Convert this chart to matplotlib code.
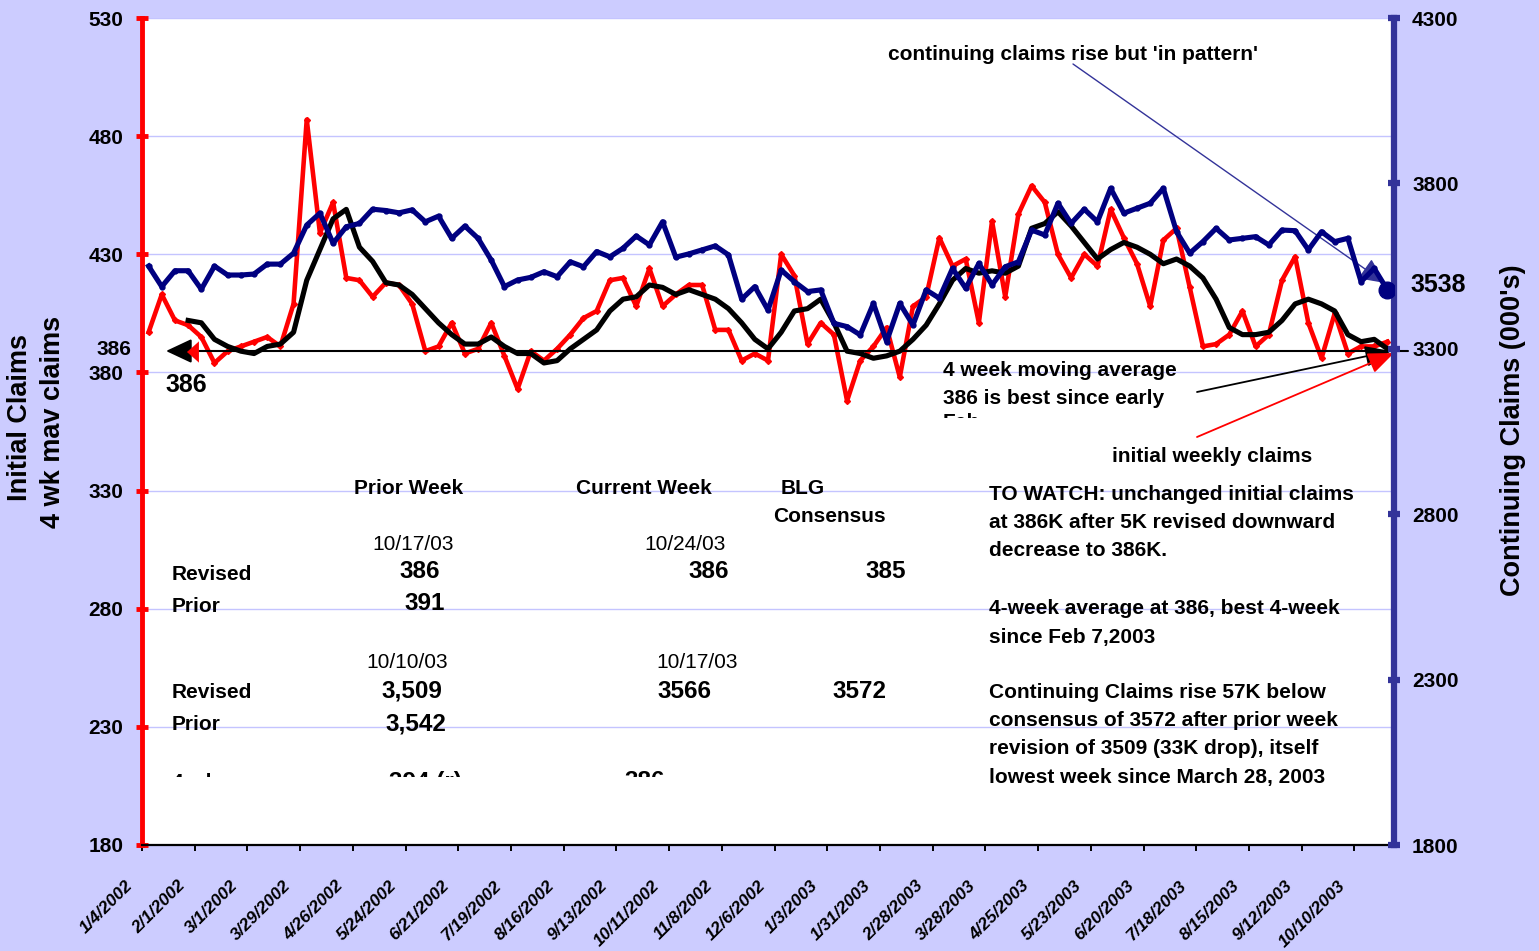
import numpy as np
import matplotlib
matplotlib.use("Agg")
import matplotlib.pyplot as plt
from matplotlib.transforms import Bbox, blended_transform_factory

plt.rcParams['font.family'] = ['Liberation Sans', 'DejaVu Sans']

# weekly initial claims (000s), 1/4/2002 .. 10/24/2003
initial_claims = [397, 413, 402, 400, 395, 384, 389, 391, 393, 395, 391, 409, 487, 439, 452, 420,
                  419, 412, 418, 417, 409, 389, 391, 401, 388, 390, 401, 387, 373, 389, 385, 390,
                  396, 403, 406, 419, 420, 408, 424, 408, 413, 417, 417, 398, 398, 385, 388, 385,
                  430, 421, 392, 401, 396, 368, 385, 391, 399, 378, 408, 412, 437, 425, 428, 401,
                  444, 412, 447, 459, 452, 430, 420, 430, 425, 449, 437, 426, 408, 436, 441, 416,
                  391, 392, 396, 406, 391, 396, 419, 429, 401, 386, 405, 388, 391, 391, 393]

# 4 week moving average, starts at the 4th week
moving_avg = [402, 401, 394, 391, 389, 388, 391, 392, 397, 419, 432, 445, 449, 433, 427, 418,
              417, 413, 407, 401, 396, 392, 392, 395, 391, 388, 388, 384, 385, 390, 394, 398,
              406, 411, 412, 417, 416, 413, 415, 413, 411, 407, 401, 394, 390, 397, 406, 407,
              411, 401, 389, 388, 386, 387, 389, 394, 400, 409, 419, 424, 422, 423, 422, 425,
              441, 443, 448, 442, 435, 428, 432, 435, 433, 430, 426, 428, 425, 420, 411, 399,
              396, 396, 397, 402, 409, 411, 409, 406, 396, 393, 394, 390]

# continuing claims (000s)
continuing = [3550, 3488, 3536, 3536, 3480, 3550, 3523, 3523, 3526, 3556, 3556, 3589, 3674, 3710,
              3619, 3669, 3679, 3722, 3718, 3711, 3720, 3684, 3701, 3634, 3671, 3634, 3568, 3488,
              3508, 3516, 3533, 3518, 3563, 3548, 3594, 3578, 3604, 3641, 3614, 3684, 3577, 3587,
              3599, 3611, 3584, 3450, 3488, 3417, 3538, 3503, 3473, 3478, 3377, 3367, 3342, 3437,
              3322, 3437, 3372, 3478, 3453, 3543, 3483, 3558, 3493, 3548, 3563, 3659, 3644, 3740,
              3679, 3722, 3684, 3785, 3710, 3725, 3740, 3785, 3654, 3589, 3624, 3664, 3629, 3634,
              3639, 3614, 3659, 3657, 3599, 3654, 3624, 3634, 3503, 3543, 3478]

date_labels = ['1/4/2002', '2/1/2002', '3/1/2002', '3/29/2002', '4/26/2002', '5/24/2002',
               '6/21/2002', '7/19/2002', '8/16/2002', '9/13/2002', '10/11/2002', '11/8/2002',
               '12/6/2002', '1/3/2003', '1/31/2003', '2/28/2003', '3/28/2003', '4/25/2003',
               '5/23/2003', '6/20/2003', '7/18/2003', '8/15/2003', '9/12/2003', '10/10/2003']

W, H = 1539, 951
BG = '#CCCCFF'
NAVY = '#000080'
AXBLUE = '#333399'


def px(x, y):
    # reference pixel (from top-left) -> figure fraction
    return x / W, 1 - y / H


fig = plt.figure(figsize=(W / 100, H / 100), dpi=100, facecolor=BG)
ax = fig.add_axes([142 / W, 1 - 845 / H, (1394 - 142) / W, (845 - 18) / H])
ax.set_facecolor('white')
ax2 = ax.twinx()

x = np.arange(len(initial_claims))
ax.plot(x, initial_claims, color='red', lw=3.3, marker='D', ms=3, zorder=3)
ax.plot(x[3:], moving_avg, color='black', lw=3.7, zorder=4)
ax2.plot(x, continuing, color=NAVY, lw=3.7, marker='o', ms=3.5, zorder=3)
ax2.plot(x[-1:], continuing[-1:], 'o', color=NAVY, ms=12, zorder=4)

ax.set_xlim(-0.5, len(initial_claims) - 0.5)
ax.set_ylim(180, 530)
ax.set_yticks(range(180, 531, 50))
ax2.set_ylim(1800, 4300)
ax2.set_yticks(range(1800, 4301, 500))
ax.set_xticks(np.arange(-0.5, len(initial_claims) - 1, 4))
ax.set_xticklabels([])

ax.yaxis.grid(True, color='#C4C4FF', lw=1)
ax.set_axisbelow(True)

for a in (ax, ax2):
    a.spines['top'].set_visible(False)
ax.spines['right'].set_visible(False)
ax2.spines['left'].set_visible(False)
ax2.spines['bottom'].set_visible(False)
ax.spines['left'].set_color('red')
ax.spines['left'].set_linewidth(3.5)
ax2.spines['right'].set_color(AXBLUE)
ax2.spines['right'].set_linewidth(4.5)
ax.spines['bottom'].set_color('black')
ax.spines['bottom'].set_linewidth(1.6)

ax.tick_params(axis='y', direction='inout', length=9, width=3.5, color='red', pad=9,
               labelsize=15)
ax2.tick_params(axis='y', direction='inout', length=8, width=4.5, color=AXBLUE, pad=9,
                labelsize=15)
ax.tick_params(axis='x', direction='out', length=4, width=1.4, color='black')
for lab in ax.get_yticklabels() + ax2.get_yticklabels():
    lab.set_fontweight('bold')

# rotated category labels, every 4 weeks
tr = blended_transform_factory(ax.transData, ax.transAxes)
for k, lab in enumerate(date_labels):
    ax.text(4 * k - 0.5 - 1.3, -0.040, lab, transform=tr, rotation=45, ha='right', va='top',
            rotation_mode='anchor', fontsize=12.5, fontweight='bold', fontstyle='italic',
            clip_on=False)

# axis titles
fig.text(*px(20, 418), 'Initial Claims', rotation=90, ha='center', va='center',
         fontsize=19.5, fontweight='bold')
fig.text(*px(53, 422), '4 wk mav claims', rotation=90, ha='center', va='center',
         fontsize=19.5, fontweight='bold')
fig.text(*px(1513, 430), "Continuing Claims (000's)", rotation=90, ha='center', va='center',
         fontsize=19.5, fontweight='bold')

# extra value labels
fig.text(*px(114, 350), '386', ha='center', va='center', fontsize=15, fontweight='bold')
fig.text(*px(186, 385), '386', ha='center', va='center', fontsize=18, fontweight='bold')
fig.text(*px(1438, 285), '3538', ha='center', va='center', fontsize=18, fontweight='bold')


def clipped(xp, yp, s, clip_y, **kw):
    t = fig.text(*px(xp, yp), s, **kw)
    t.set_clip_box(Bbox.from_extents(0, H - clip_y, W, H))
    t.set_clip_on(True)
    return t


# table
b15 = dict(fontsize=15, fontweight='bold', va='center')
n17 = dict(fontsize=17.5, fontweight='bold', va='center', ha='center')
r15 = dict(fontsize=15, va='center', ha='center')
fig.text(*px(409, 489), 'Prior Week', ha='center', **b15)
fig.text(*px(644, 489), 'Current Week', ha='center', **b15)
fig.text(*px(781, 489), 'BLG', ha='left', **b15)
fig.text(*px(773, 517), 'Consensus', ha='left', **b15)
fig.text(*px(413, 545), '10/17/03', **r15)
fig.text(*px(685, 545), '10/24/03', **r15)
fig.text(*px(172, 575), 'Revised', ha='left', **b15)
fig.text(*px(420, 572), '386', **n17)
fig.text(*px(709, 572), '386', **n17)
fig.text(*px(886, 572), '385', **n17)
fig.text(*px(172, 606), 'Prior', ha='left', **b15)
fig.text(*px(425, 604), '391', **n17)
fig.text(*px(407, 663), '10/10/03', **r15)
fig.text(*px(697, 663), '10/17/03', **r15)
fig.text(*px(172, 693), 'Revised', ha='left', **b15)
fig.text(*px(412, 691), '3,509', **n17)
fig.text(*px(684, 691), '3566', **n17)
fig.text(*px(859, 691), '3572', **n17)
fig.text(*px(172, 725), 'Prior', ha='left', **b15)
fig.text(*px(416, 724), '3,542', **n17)
clipped(172, 782, '4 wk avg', 777, ha='left', **b15)
clipped(425, 782, '394 (r)', 777, **n17)
clipped(645, 782, '386', 777, **n17)

# commentary on the right
notes = [(495, 'TO WATCH: unchanged initial claims'),
         (523, 'at 386K after 5K revised downward'),
         (551, 'decrease to 386K.'),
         (608, '4-week average at 386, best 4-week'),
         (637, 'since Feb 7,2003'),
         (693, 'Continuing Claims rise 57K below'),
         (721, 'consensus of 3572 after prior week'),
         (749, 'revision of 3509 (33K drop), itself'),
         (777, 'lowest week since March 28, 2003')]
for yp, s in notes:
    fig.text(*px(989, yp), s, ha='left', **b15)

fig.text(*px(1073, 55), "continuing claims rise but 'in pattern'", ha='center', **b15)
fig.text(*px(943, 371), '4 week moving average', ha='left', **b15)
fig.text(*px(943, 399), '386 is best since early', ha='left', **b15)
clipped(943, 423, 'Feb', 418, ha='left', **b15)
fig.text(*px(1212, 457), 'initial weekly claims', ha='center', **b15)


def arrow(x0, y0, x1, y1, color, lw, hl, hw):
    ax.annotate('', xy=(x1, H - y1), xycoords='figure pixels',
                xytext=(x0, H - y0), textcoords='figure pixels',
                arrowprops=dict(arrowstyle='-|>,head_length=%g,head_width=%g' % (hl, hw),
                                color=color, lw=lw, shrinkA=0, shrinkB=0, mutation_scale=10),
                annotation_clip=False, zorder=6)


arrow(1073, 64, 1385, 283, AXBLUE, 1.0, 1.6, 0.75)
arrow(1408, 351, 166, 351, 'black', 1.5, 1.6, 0.75)
arrow(199, 352, 187, 352, 'red', 0.1, 0.85, 0.75)
arrow(1197, 392, 1391, 351, 'black', 1.3, 1.6, 0.65)
arrow(1197, 437, 1394, 353, 'red', 1.3, 1.6, 0.65)

fig.savefig('out.png', dpi=100, facecolor=BG)
